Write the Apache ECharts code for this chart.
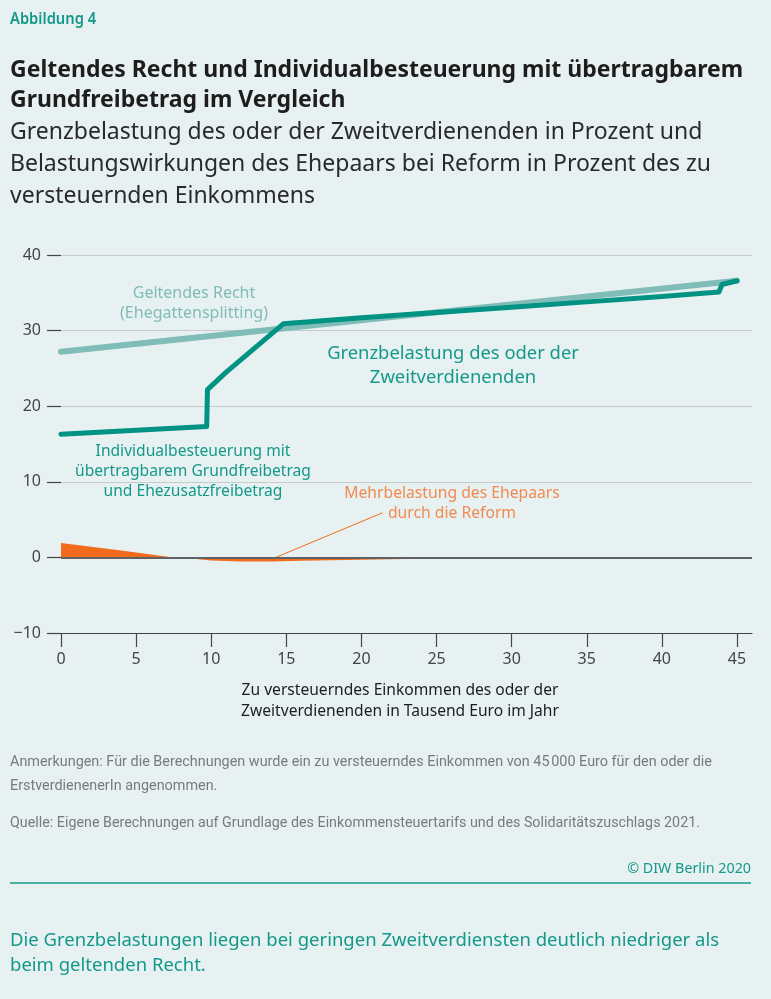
<!DOCTYPE html>
<html lang="de">
<head>
    <meta charset="utf-8">
    <title>Abbildung 4</title>
    <style>
        body {
            margin: 0;
            background: #e8f1f1;
        }

        #ec {
            width: 771px;
            height: 999px;
        }
    </style>
</head>
<body>
    <div id="ec"></div>
    <script src="https://cdn.jsdelivr.net/npm/echarts@6/dist/echarts.min.js"></script>
    <script>
        // x-Achse: zu versteuerndes Einkommen (Tsd. Euro)
        var xTicks = [0, 5, 10, 15, 20, 25, 30, 35, 40, 45];
        var yTicks = [-10, 0, 10, 20, 30, 40];

        // Geltendes Recht (Ehegattensplitting)
        var geltendX = [0, 45];
        var geltendY = [27.2, 36.6];

        // Individualbesteuerung mit übertragbarem Grundfreibetrag
        var individX = [0, 9.7, 9.75, 11, 14.8, 20, 25, 30, 35, 40, 43.8, 44, 45];
        var individY = [16.3, 17.3, 22.2, 24.5, 30.9, 31.7, 32.4, 33.1, 33.8, 34.5, 35.1, 36.1, 36.6];

        // Mehrbelastung des Ehepaars durch die Reform
        var mehrX = [0, 2, 4, 6, 7.5, 9, 10, 12, 14, 16, 20, 25, 30, 35, 45];
        var mehrY = [1.9, 1.4, 0.9, 0.4, 0, -0.2, -0.4, -0.55, -0.55, -0.45, -0.3, -0.15, -0.05, 0, 0];

        function pairs(xs, ys) {
            return xs.map(function (x, i) { return [x, ys[i]]; });
        }

        var teal = '#009383';
        var tealText = '#13998a';
        var lightTeal = '#80bcb8';
        var orange = '#f26b1d';
        var orangeText = '#f28a50';
        var font = '"Noto Sans", sans-serif';
        var narrow = 'Roboto, sans-serif';

        function txt(x, y, str, size, color, opts) {
            opts = opts || {};
            return {
                type: 'text',
                x: x,
                y: y,
                scaleX: opts.scaleX || 1,
                style: {
                    text: str,
                    fill: color,
                    font: (opts.weight || 'normal') + ' ' + size + 'px ' + (opts.family || font),
                    textAlign: opts.align || 'left',
                    textVerticalAlign: 'middle',
                    lineHeight: opts.lineHeight || size * 1.3
                }
            };
        }

        var chart = echarts.init(document.getElementById('ec'));

        chart.setOption({
            backgroundColor: '#e8f1f1',
            animation: false,
            grid: {
                left: 61,
                right: 19,
                top: 255,
                bottom: 366
            },
            xAxis: {
                type: 'value',
                min: 0,
                max: 46,
                interval: 5,
                splitLine: { show: false },
                axisLine: { onZero: false, lineStyle: { color: '#444', width: 1.2 } },
                axisTick: {
                    length: 14,
                    customValues: xTicks,
                    lineStyle: { color: '#444', width: 1.2 }
                },
                axisLabel: {
                    customValues: xTicks,
                    margin: 18,
                    color: '#444',
                    fontSize: 16,
                    fontFamily: font
                }
            },
            yAxis: {
                type: 'value',
                min: -10,
                max: 40,
                interval: 10,
                axisLine: { show: false },
                axisTick: {
                    show: true,
                    length: 14,
                    customValues: yTicks,
                    lineStyle: { color: '#444', width: 1.2 }
                },
                axisLabel: {
                    margin: 20,
                    color: '#444',
                    fontSize: 16,
                    fontFamily: font,
                    formatter: function (v) {
                        return v < 0 ? '\u2212' + Math.abs(v) : String(v);
                    }
                },
                splitLine: { lineStyle: { color: '#c7cbcc', width: 1.2 } }
            },
            series: [
                {
                    name: 'Mehrbelastung',
                    type: 'line',
                    data: pairs(mehrX, mehrY),
                    showSymbol: false,
                    lineStyle: { width: 0 },
                    areaStyle: { color: orange, opacity: 1 },
                    z: 2,
                    markLine: {
                        silent: true,
                        symbol: 'none',
                        label: { show: false },
                        lineStyle: { color: orange, width: 1, type: 'solid' },
                        data: [[{ coord: [14.3, 0] }, { coord: [21.4, 5.9] }]]
                    }
                },
                {
                    name: 'Nulllinie',
                    type: 'line',
                    data: [],
                    z: 3,
                    markLine: {
                        silent: true,
                        symbol: 'none',
                        label: { show: false },
                        lineStyle: { color: '#5f6263', width: 2, type: 'solid' },
                        data: [{ yAxis: 0 }]
                    }
                },
                {
                    name: 'Geltendes Recht',
                    type: 'line',
                    data: pairs(geltendX, geltendY),
                    showSymbol: false,
                    lineStyle: { color: lightTeal, width: 6, cap: 'round' },
                    z: 4
                },
                {
                    name: 'Individualbesteuerung',
                    type: 'line',
                    data: pairs(individX, individY),
                    showSymbol: false,
                    lineStyle: { color: teal, width: 5, cap: 'round', join: 'round' },
                    z: 5
                }
            ],
            graphic: [
                // Kopf
                txt(10, 19, 'Abbildung 4', 16, tealText, { weight: '600', scaleX: 0.92 }),
                txt(10, 85, 'Geltendes Recht und Individualbesteuerung mit übertragbarem\nGrundfreibetrag im Vergleich', 23, '#1d1d1d', { weight: 'bold', lineHeight: 30 }),
                txt(10, 164, 'Grenzbelastung des oder der Zweitverdienenden in Prozent und\nBelastungswirkungen des Ehepaars bei Reform in Prozent des zu\nversteuernden Einkommens', 23, '#2a2a2a', { lineHeight: 32 }),

                // Beschriftungen im Diagramm
                txt(194, 303, 'Geltendes Recht\n(Ehegattensplitting)', 16, lightTeal, { align: 'center', lineHeight: 20 }),
                txt(453, 366, 'Grenzbelastung des oder der\nZweitverdienenden', 18.4, tealText, { align: 'center', lineHeight: 24 }),
                txt(193, 472, 'Individualbesteuerung mit\nübertragbarem Grundfreibetrag\nund Ehezusatzfreibetrag', 15.6, tealText, { align: 'center', lineHeight: 20 }),
                txt(452, 504, 'Mehrbelastung des Ehepaars\ndurch die Reform', 15.7, orangeText, { align: 'center', lineHeight: 20 }),

                // Achsentitel
                txt(400, 701, 'Zu versteuerndes Einkommen des oder der\nZweitverdienenden in Tausend Euro im Jahr', 15.6, '#1d1d1d', { align: 'center', lineHeight: 21 }),

                // Fuß
                txt(10, 774, 'Anmerkungen: Für die Berechnungen wurde ein zu versteuerndes Einkommen von 45\u202f000 Euro für den oder die\nErstverdienenerIn angenommen.', 14.4, '#7a7a7a', { family: narrow, lineHeight: 24 }),
                txt(10, 823, 'Quelle: Eigene Berechnungen auf Grundlage des Einkommensteuertarifs und des Solidaritätszuschlags 2021.', 14.3, '#7a7a7a', { family: narrow }),
                txt(751, 869, '© DIW Berlin 2020', 14.3, tealText, { align: 'right' }),
                {
                    type: 'line',
                    shape: { x1: 10, y1: 883, x2: 751, y2: 883 },
                    style: { stroke: '#1a9a8b', lineWidth: 1.5 }
                },
                txt(10, 953, 'Die Grenzbelastungen liegen bei geringen Zweitverdiensten deutlich niedriger als\nbeim geltenden Recht.', 18.5, tealText, { lineHeight: 25 })
            ]
        });
    </script>
</body>
</html>
